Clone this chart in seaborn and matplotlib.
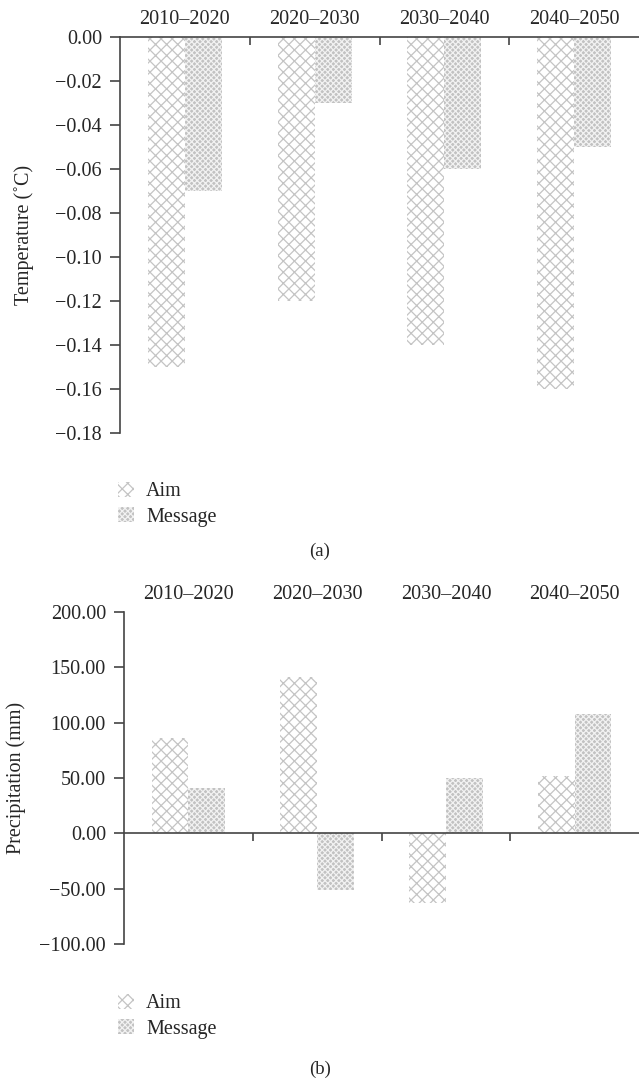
import numpy as np
import pandas as pd
import matplotlib
matplotlib.use("Agg")
import matplotlib.pyplot as plt
import seaborn as sns
from matplotlib.patches import Patch
from matplotlib.ticker import FixedLocator, FuncFormatter

periods = ["2010–2020", "2020–2030", "2030–2040", "2040–2050"]
models = ["Aim", "Message"]
temp_aim = [-0.15, -0.12, -0.14, -0.16]
temp_message = [-0.07, -0.03, -0.06, -0.05]
prec_aim = [86, 141, -63, 52]
prec_message = [41, -51, 50, 108]

temp_ticks = [0.00, -0.02, -0.04, -0.06, -0.08, -0.10, -0.12, -0.14, -0.16, -0.18]
prec_ticks = [200, 150, 100, 50, 0, -50, -100]

sns.set_style("white")
plt.rcParams['font.family'] = ['Liberation Serif', 'DejaVu Serif']
plt.rcParams['hatch.linewidth'] = 0.9
FS = 14.5

AIM_STYLE = dict(facecolor="white", edgecolor="#c4c4c4", hatch="xxx")
MSG_STYLE = dict(facecolor="#c2c2c2", edgecolor="#f2f2f2", hatch="xxxxxx")

fig = plt.figure(figsize=(6.39, 10.83), dpi=100)
H = 1083.0
W = 639.0


def make_panel(rect, aim, msg, ylim, ticks, ylabel, ylabel_x, legend_y, letter, letter_y):
    ax = fig.add_axes(rect)
    df = pd.DataFrame({
        "Period": periods * 2,
        "Model": [models[0]] * 4 + [models[1]] * 4,
        "Value": list(aim) + list(msg),
    })
    sns.barplot(data=df, x="Period", y="Value", hue="Model", order=periods,
                hue_order=models, width=0.57, gap=0, ax=ax, legend=False,
                errorbar=None)
    for cont, style in zip(ax.containers, [AIM_STYLE, MSG_STYLE]):
        for p in cont:
            p.set_facecolor(style["facecolor"])
            p.set_edgecolor(style["edgecolor"])
            p.set_hatch(style["hatch"])
            p.set_linewidth(0)
    ax.set_xlim(-0.5, 3.5)
    ax.set_ylim(*ylim)
    ax.set_xlabel("")
    ax.set_ylabel("")
    for s in ["top", "right"]:
        ax.spines[s].set_visible(False)
    ax.spines["bottom"].set_position(("data", 0))
    for s in ["left", "bottom"]:
        ax.spines[s].set_color("#444444")
        ax.spines[s].set_linewidth(1.2)
    # category labels on top
    ax.set_xticks(range(4))
    ax.set_xticklabels(periods)
    ax.tick_params(axis="x", which="major", bottom=False, top=False,
                   labelbottom=False, labeltop=True, labelsize=FS, pad=2.5)
    ax.xaxis.set_minor_locator(FixedLocator([0.5, 1.5, 2.5]))
    ax.tick_params(axis="x", which="minor", bottom=True, direction="out",
                   length=6, width=1.2, color="#444444")
    ax.set_yticks(ticks)
    ax.yaxis.set_major_formatter(FuncFormatter(
        lambda v, p: (f"{v:.2f}").replace("-", "\u2212") if abs(v) > 1e-12 else "0.00"))
    ax.tick_params(axis="y", left=True, direction="out", length=7, width=1.2,
                   color="#444444", labelsize=FS, pad=6)
    ax.set_ylabel(ylabel, fontsize=FS)
    ax.yaxis.set_label_coords((ylabel_x - rect[0] * W) / (rect[2] * W), 0.5)
    handles = [Patch(label=m, **st, linewidth=0) for m, st in zip(models, [AIM_STYLE, MSG_STYLE])]
    fig.legend(handles=handles, loc="upper left",
               bbox_to_anchor=(118 / W, 1 - legend_y / H), frameon=False,
               fontsize=FS, handlelength=0.8, handleheight=0.75,
               handletextpad=0.6, labelspacing=0.3, borderpad=0, borderaxespad=0)
    fig.text(320 / W, 1 - letter_y / H, letter, ha="center", va="center", fontsize=FS - 1)
    return ax


make_panel([120 / W, 1 - 433 / H, 1 - 120 / W, (433 - 37) / H],
           temp_aim, temp_message, (-0.18, 0.0), temp_ticks,
           "Temperature (\u02daC)", 34, 482, "(a)", 551)
make_panel([124 / W, 1 - 944 / H, 1 - 124 / W, (944 - 612) / H],
           prec_aim, prec_message, (-100, 200), prec_ticks,
           "Precipitation (mm)", 26, 994, "(b)", 1069)

fig.savefig("out.png", dpi=100, facecolor="white")
